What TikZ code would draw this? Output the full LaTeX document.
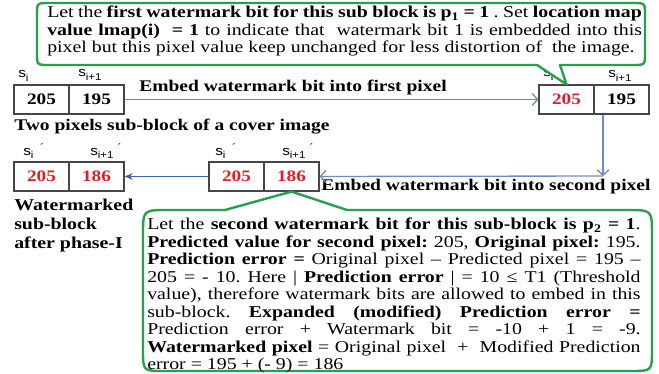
\documentclass[tikz,border=0pt]{standalone}
\usepackage{fontspec}
\setmainfont[FakeStretch=1.2]{Liberation Serif}
\newfontfamily\lblfont[FakeStretch=1.15]{Liberation Sans}
\usetikzlibrary{arrows.meta}
\frenchspacing

\definecolor{callgreen}{RGB}{38,160,75}
\definecolor{flowblue}{RGB}{112,140,185}
\definecolor{darkblue}{RGB}{60,100,170}
\definecolor{numred}{RGB}{225,30,35}
\definecolor{cellgray}{RGB}{70,70,70}

% pixel name with subscript, and the detached prime mark
\newcommand\sname[1]{s\raisebox{-0.45ex}{\fontsize{7.5}{8}\selectfont #1}}
\newcommand\sprime{\raisebox{0.55ex}{\fontsize{8}{8}\selectfont ´}}

\tikzset{
  cell/.style={draw=cellgray, line width=0.9pt, minimum width=41.25pt,
    minimum height=21.75pt, inner sep=0pt,
    font=\bfseries\fontsize{12}{13}\selectfont},
  marked/.style={text=numred},
  lbl/.style={font=\lblfont\fontsize{10}{12}\selectfont, inner sep=0pt, anchor=base west},
  caption/.style={font=\bfseries\fontsize{12.2}{13.1}\selectfont, inner sep=0pt},
  flow/.style={draw=flowblue, line width=1pt, -{Straight Barb[length=4pt,width=9pt]}},
  callout/.style={draw=callgreen, line width=1.8pt, fill=white, line join=round},
  note/.style={font=\fontsize{12.4}{13.1}\selectfont, inner sep=0pt, align=justify,
    anchor=north west}
}

\begin{document}
\begin{tikzpicture}[x=0.75pt, y=-0.75pt]
\useasboundingbox (0,0) rectangle (659,374);

% ---- pixel sub-blocks ----
\node[cell] (A1) at (41.5,99.5) {205};
\node[cell] (A2) at (96.5,99.5) {195};
\node[cell, marked] (B1) at (566.5,99.5) {205};
\node[cell] (B2) at (621.5,99.5) {195};
\node[cell, marked] (C1) at (236.5,176.5) {205};
\node[cell, marked] (C2) at (291.5,176.5) {186};
\node[cell, marked] (D1) at (41.5,176.5) {205};
\node[cell, marked] (D2) at (96.5,176.5) {186};

% ---- pixel names ----
\node[lbl] (la1) at (18,78) {\sname{i}};
\node[lbl] (la2) at (78,77) {\sname{i+1}};
\node[lbl] (lb1) at (543,77) {\sname{i}\hspace{5pt}\sprime};
\node[lbl] (lb2) at (608,78) {\sname{i+1}};
\node[lbl] (lc1) at (215,155) {\sname{i}\hspace{5pt}\sprime};
\node[lbl] (lc2) at (282,155) {\sname{i+1}\hspace{3pt}\sprime};
\node[lbl] (ld1) at (23,155) {\sname{i}\hspace{5pt}\sprime};
\node[lbl] (ld2) at (90,155) {\sname{i+1}\hspace{3pt}\sprime};

% ---- captions ----
\node[caption] (t1) at (293,88) {Embed watermark bit into first pixel};
\node[caption, anchor=west] (t2) at (14,127) {Two pixels sub-block of a cover image};
\node[caption] (t3) at (486,187) {Embed watermark bit into second pixel};
\node[caption, anchor=north west, align=left,
      font=\bfseries\fontsize{12.4}{14.2}\selectfont] (t4) at (14,199)
  {Watermarked\\sub-block\\after phase-I};

% ---- connectors ----
\draw[flow] (A2.east) -- (B1.west);
\coordinate (turn) at (603,176);
\draw[flow] (turn |- B2.south) -- (turn);
\draw[flow] (turn) -- (C2.east);
\draw[draw=darkblue, line width=0.8pt, -{Stealth[length=6pt,width=5pt]}] (C1.west) -- (D2.east);

% ---- upper callout ----
\draw[callout] (49,3) -- (633,3) .. controls (645,3) .. (645,15) -- (645,53)
  .. controls (645,65) .. (633,65) -- (560,65) -- (B1.north) -- (537,65)
  -- (49,65) .. controls (37,65) .. (37,53) -- (37,15) .. controls (37,3) .. (49,3) -- cycle;
\node[note, text width=446pt] (n1) at (47,6)
  {Let the \textbf{first watermark bit for this sub block is p\textsubscript{1} = 1} .
   Set \textbf{location map}\linebreak
   \textbf{value lmap(i) \ = 1} to indicate that \ watermark bit 1 is embedded into this\linebreak
   pixel but this pixel value keep unchanged for less distortion of \ the image.};

% ---- lower callout ----
\draw[callout] (168,210) -- (225,210) -- (C2.south) -- (347,210) -- (627,210)
  .. controls (652,210) .. (652,235) -- (652,350) .. controls (652,371) .. (631,371)
  -- (164,371) .. controls (143,371) .. (143,350) -- (143,235)
  .. controls (143,210) .. (168,210) -- cycle;
\node[note, text width=370pt] (n2) at (147,218)
  {Let the \textbf{second watermark bit for this sub-block is p\textsubscript{2} = 1}.\linebreak
   \textbf{Predicted value for second pixel:} 205, \textbf{Original pixel:} 195.\linebreak
   \textbf{Prediction error =} Original pixel -- Predicted pixel = 195 --\linebreak
   205 = - 10. Here | \textbf{Prediction error} | = 10 ≤ T1 (Threshold\linebreak
   value), therefore watermark bits are allowed to embed in this\linebreak
   sub-block. \textbf{Expanded (modified) Prediction error =}\linebreak
   Prediction error + Watermark bit = -10 + 1 = -9.\linebreak
   \textbf{Watermarked pixel} = Original pixel \ + \ Modified Prediction\linebreak
   error = 195 + (- 9) = 186};
\end{tikzpicture}
\end{document}
